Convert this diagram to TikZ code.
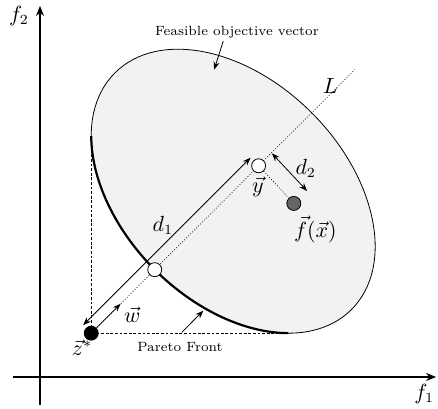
\documentclass[tikz,border=0pt]{standalone}
\usepackage{tikz}
\usetikzlibrary{arrows.meta, positioning, calc}
\definecolor{RegionGray}{gray}{0.95}
\definecolor{PointGray}{gray}{0.4}

\begin{document}
\begin{tikzpicture}[>={Stealth[length=4pt,width=3pt]},
    axis/.style={semithick, -{Stealth[length=5pt,width=4pt]}},
    pt/.style={circle, draw, inner sep=0pt, minimum size=7pt},
    lbl/.style={font=\fontsize{10.5}{12}\selectfont},
    note/.style={font=\fontsize{6.7}{8}\selectfont, inner sep=1pt},
    guide/.style={dash pattern=on 1.4pt off 0.9pt}]

\useasboundingbox (-0.703,-0.545) rectangle (6.994,6.625);

\draw[axis] (-0.47,0) -- (6.96,0);
\draw[axis] (0,-0.49) -- (0,6.52);
\node[lbl] (f1) at (6.75,-0.30) {$f_1$};
\node[lbl] (f2) at (-0.37,6.34) {$f_2$};

\coordinate (zc) at (0.90,0.77);
\coordinate (c) at ($(zc)+(2.495,2.495)$);
\coordinate (yc) at ($(zc)+(45:4.16)$);
\coordinate (Lend) at ($(zc)+(45:6.55)$);

\begin{scope}[shift={(c)}, rotate=135]
  \draw[fill=RegionGray] (0,0) ellipse (2.94 and 1.95);
  \coordinate (lm) at (33.6:2.94 and 1.95);
  \coordinate (bm) at (146.4:2.94 and 1.95);
  \coordinate (mid) at (90:2.94 and 1.95);
\end{scope}

\draw[densely dotted] (zc) -- (Lend);
\draw[guide] (lm) |- (bm);
\begin{scope}[shift={(c)}, rotate=135]
  \draw[line width=1.1pt] (lm) arc[start angle=33.6, end angle=146.4,
      x radius=2.94, y radius=1.95];
\end{scope}

\node[pt, fill=black] (zs) at (zc) {};
\node[pt, fill=white] (p) at (mid) {};
\node[pt, fill=white] (y) at (yc) {};
\node[pt, fill=PointGray] (fx) at (4.46,3.05) {};

\draw[densely dotted] (y) -- (fx);
\draw[->] (zs) -- ($(zs)!0.73cm!(y)$);
\draw[<->] ($(zs)!0.2cm!90:(y)$) -- ($(y)!0.2cm!-90:(zs)$);
\draw[<->] ($(y)!0.32cm!90:(fx)$) -- ($(fx)!0.32cm!-90:(y)$);

\node[lbl] (zlbl) at (0.74,0.51) {$\vec{z}^{*}$};
\node[lbl] (wlbl) at (1.62,1.09) {$\vec{w}$};
\node[lbl] (ylbl) at (3.83,3.34) {$\vec{y}$};
\node[lbl] (fxlbl) at (4.84,2.60) {$\vec{f}(\vec{x})$};
\node[lbl] (d1lbl) at (2.16,2.67) {$d_1$};
\node[lbl] (d2lbl) at (4.67,3.66) {$d_2$};
\node[lbl] (Llbl) at (5.10,5.11) {$L$};

\node[note] (feas) at (3.46,6.05) {Feasible objective vector};
\coordinate (feasTip) at (3.06,5.40);
\draw[->] ([xshift=-0.24cm]feas.south) -- (feasTip);

\node[note] (pareto) at (2.46,0.52) {Pareto Front};
\coordinate (paretoTip) at (2.87,1.165);
\draw[->] ([xshift=0.03cm,yshift=0.14cm]pareto.north) -- (paretoTip);

\end{tikzpicture}
\end{document}
